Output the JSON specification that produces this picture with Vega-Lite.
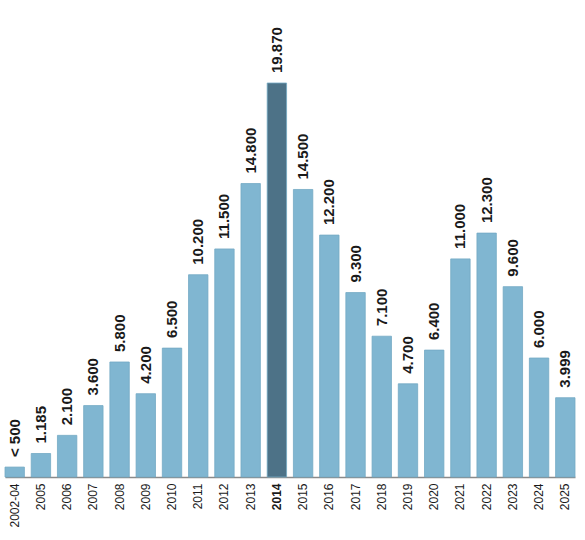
{
  "$schema": "https://vega.github.io/schema/vega-lite/v6.json",
  "width": 570,
  "height": 394,
  "autosize": "none",
  "padding": {"left": 5, "top": 83, "right": 10, "bottom": 63},
  "background": "white",
  "data": {
    "values": [
      {"year": "2002-04", "value": 500, "label": "< 500"},
      {"year": "2005", "value": 1185, "label": "1.185"},
      {"year": "2006", "value": 2100, "label": "2.100"},
      {"year": "2007", "value": 3600, "label": "3.600"},
      {"year": "2008", "value": 5800, "label": "5.800"},
      {"year": "2009", "value": 4200, "label": "4.200"},
      {"year": "2010", "value": 6500, "label": "6.500"},
      {"year": "2011", "value": 10200, "label": "10.200"},
      {"year": "2012", "value": 11500, "label": "11.500"},
      {"year": "2013", "value": 14800, "label": "14.800"},
      {"year": "2014", "value": 19870, "label": "19.870"},
      {"year": "2015", "value": 14500, "label": "14.500"},
      {"year": "2016", "value": 12200, "label": "12.200"},
      {"year": "2017", "value": 9300, "label": "9.300"},
      {"year": "2018", "value": 7100, "label": "7.100"},
      {"year": "2019", "value": 4700, "label": "4.700"},
      {"year": "2020", "value": 6400, "label": "6.400"},
      {"year": "2021", "value": 11000, "label": "11.000"},
      {"year": "2022", "value": 12300, "label": "12.300"},
      {"year": "2023", "value": 9600, "label": "9.600"},
      {"year": "2024", "value": 6000, "label": "6.000"},
      {"year": "2025", "value": 3999, "label": "3.999"}
    ]
  },
  "encoding": {
    "x": {
      "field": "year",
      "type": "nominal",
      "sort": null,
      "scale": {"paddingInner": 0.26, "paddingOuter": 0},
      "axis": {
        "title": null,
        "labelAngle": -90,
        "labelFontSize": 12,
        "labelColor": "#1a1a1a",
        "labelPadding": 6,
        "labelFontWeight": {"condition": {"test": "datum.value == '2014'", "value": "bold"}, "value": "normal"},
        "ticks": false,
        "domainColor": "#8a8a8a",
        "domainWidth": 1.5
      }
    },
    "y": {
      "field": "value",
      "type": "quantitative",
      "scale": {"domain": [0, 19870], "nice": false},
      "axis": null
    }
  },
  "layer": [
    {
      "mark": {"type": "bar", "stroke": "#74a9c4", "strokeWidth": 0.8},
      "encoding": {
        "color": {
          "condition": {"test": "datum.year == '2014'", "value": "#4d7287"},
          "value": "#80b6d1"
        }
      }
    },
    {
      "mark": {
        "type": "text",
        "angle": 270,
        "align": "left",
        "baseline": "middle",
        "dx": 10,
        "fontSize": 15,
        "fontWeight": "bold",
        "color": "#1a1a1a"
      },
      "encoding": {
        "text": {"field": "label"}
      }
    }
  ],
  "config": {
    "font": "Liberation Sans, Arial, sans-serif",
    "view": {"stroke": null},
    "axis": {"labelFont": "Liberation Sans, Arial, sans-serif"}
  }
}
